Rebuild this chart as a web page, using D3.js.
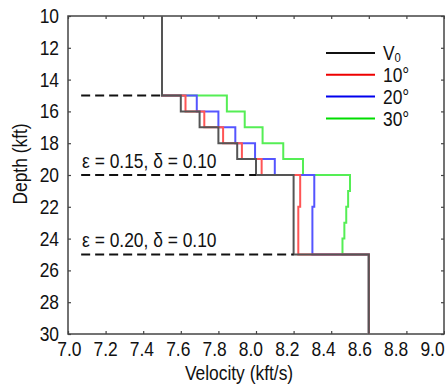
<!DOCTYPE html>
<html>
<head>
<meta charset="utf-8">
<script src="https://cdn.jsdelivr.net/npm/d3@7"></script>
<style>
  body { margin: 0; background: #fff; }
  text { font-family: "Liberation Sans", Arial, sans-serif; fill: #111; }
</style>
</head>
<body>
<div id="chart"></div>
<script>
// layer boundaries (kft) and interval velocities (kft/s)
const depths = [10, 15, 16, 17, 18, 19, 20, 21, 22, 23, 24, 25, 30];
const v0 = [7.5, 7.6, 7.7, 7.8, 7.9, 8.0, 8.2, 8.2, 8.2, 8.2, 8.2, 8.6];
const v10 = [7.5, 7.625, 7.725, 7.825, 7.925, 8.03, 8.235, 8.235, 8.225, 8.225, 8.225, 8.6];
const v20 = [7.5, 7.685, 7.8, 7.89, 7.995, 8.1, 8.31, 8.31, 8.3, 8.3, 8.3, 8.6];
const v30 = [7.5, 7.845, 7.94, 8.035, 8.145, 8.25, 8.5, 8.49, 8.48, 8.47, 8.46, 8.6];
const seriesNames = ["V0", "10°", "20°", "30°"];
const xTicks = [7.0, 7.2, 7.4, 7.6, 7.8, 8.0, 8.2, 8.4, 8.6, 8.8, 9.0];
const yTicks = [10, 12, 14, 16, 18, 20, 22, 24, 26, 28, 30];
const boundaryDepths = [15, 20, 25];
const annotations = ["ε = 0.15, δ = 0.10", "ε = 0.20, δ = 0.10"];
const annotationDepths = [19.55, 24.55];

// narrow font look: squeeze text horizontally
const sx = 0.87;

let margin = { top: 16, right: 1, bottom: 52, left: 68 },
  width = 445 - margin.left - margin.right,
  height = 386 - margin.top - margin.bottom;

let svg = d3.select("#chart")
  .append("svg")
  .attr("width", 445)
  .attr("height", 386)
  .append("g")
  .attr("transform", "translate(" + margin.left + "," + margin.top + ")");

let x = d3.scaleLinear().domain([7, 9]).range([0, width]);
let y = d3.scaleLinear().domain([10, 30]).range([0, height]);
// the x tick labels in the original sit on a slightly tighter spacing than the ticks
let xLabel = d3.scaleLinear().domain([7, 9]).range([0.8, 364]);

// axes with inward ticks on all sides
let axisColor = "#444";
function styleAxis(g) {
  g.select(".domain").remove();
  g.selectAll("line").attr("stroke", axisColor).attr("stroke-width", 1.2);
  g.selectAll("text").style("font-size", "20px").attr("fill", "#111");
}
svg.append("g").call(d3.axisLeft(y).tickValues(yTicks).tickSizeInner(-3).tickSizeOuter(0).tickPadding(9))
  .call(styleAxis)
  .call(g => g.selectAll("text").attr("x", -9 / sx).attr("transform", `scale(${sx},1)`));
svg.append("g").attr("transform", `translate(${width},0)`)
  .call(d3.axisRight(y).tickValues(yTicks).tickSizeInner(-3).tickSizeOuter(0).tickFormat("")).call(styleAxis);
svg.append("g").attr("transform", `translate(0,${height})`)
  .call(d3.axisBottom(x).tickValues(xTicks).tickSizeInner(-3).tickSizeOuter(0).tickFormat("")).call(styleAxis);
svg.append("g").attr("transform", `translate(0,${height})`)
  .call(d3.axisBottom(xLabel).tickValues(xTicks).tickSize(0).tickPadding(8).tickFormat(d3.format(".1f")))
  .call(styleAxis)
  .call(g => g.selectAll("text").attr("transform", `scale(${sx},1)`));
svg.append("g")
  .call(d3.axisTop(x).tickValues(xTicks).tickSizeInner(-3).tickSizeOuter(0).tickFormat("")).call(styleAxis);

svg.append("rect")
  .attr("width", width).attr("height", height)
  .attr("fill", "none").attr("stroke", axisColor).attr("stroke-width", 1.5);

// step profiles
function stepPoints(vals) {
  let pts = [];
  vals.forEach((v, i) => {
    pts.push([v, depths[i]]);
    pts.push([v, depths[i + 1]]);
  });
  return pts;
}
let line = d3.line().x(d => x(d[0])).y(d => y(d[1]));

let series = [
  { vals: v30, color: "#55ee55", legend: "#00dd00" },
  { vals: v20, color: "#5555ff", legend: "#0000ee" },
  { vals: v10, color: "#ff5555", legend: "#ee0000" },
  { vals: v0, color: "#555555", legend: "#111111" }
];
series.forEach(s => {
  svg.append("path")
    .attr("d", line(stepPoints(s.vals)))
    .attr("fill", "none")
    .attr("stroke", s.color)
    .attr("stroke-width", 2);
});

// dashed layer boundaries
boundaryDepths.forEach(d => {
  let idx = depths.indexOf(d);
  svg.append("line")
    .attr("x1", x(7.07)).attr("x2", x(v0[idx - 1]))
    .attr("y1", y(d)).attr("y2", y(d))
    .attr("stroke", "#111").attr("stroke-width", 2)
    .attr("stroke-dasharray", "9,5");
});

// squeezed text placed at (px, py)
function label(parent, px, py, anchor) {
  return parent.append("g")
    .attr("transform", `translate(${px},${py}) scale(${sx},1)`)
    .append("text")
    .attr("text-anchor", anchor || "start")
    .style("font-size", "20px");
}

annotations.forEach((t, i) => {
  label(svg, x(7.075), y(annotationDepths[i])).text(t);
});

// legend
let legendOrder = [series[3], series[2], series[1], series[0]];
let legend = svg.append("g").attr("transform", "translate(258,37)");
legendOrder.forEach((s, i) => {
  let ly = i * 21.8;
  legend.append("line")
    .attr("x1", 0).attr("x2", 49)
    .attr("y1", ly).attr("y2", ly)
    .attr("stroke", s.legend).attr("stroke-width", 2);
  let t = label(legend, 57, ly).attr("dy", "0.36em");
  if (i === 0) {
    t.append("tspan").text("V");
    t.append("tspan").attr("dy", "0.12em").style("font-size", "13px").text("0");
  } else {
    t.text(seriesNames[i]);
  }
});

// axis titles
label(svg, 239 - margin.left, 380 - margin.top, "middle").text("Velocity (kft/s)");
svg.append("g")
  .attr("transform", `translate(${27 - margin.left},${164 - margin.top}) rotate(-90) scale(${sx},1)`)
  .append("text")
  .attr("text-anchor", "middle")
  .style("font-size", "20px")
  .text("Depth (kft)");
</script>
</body>
</html>
